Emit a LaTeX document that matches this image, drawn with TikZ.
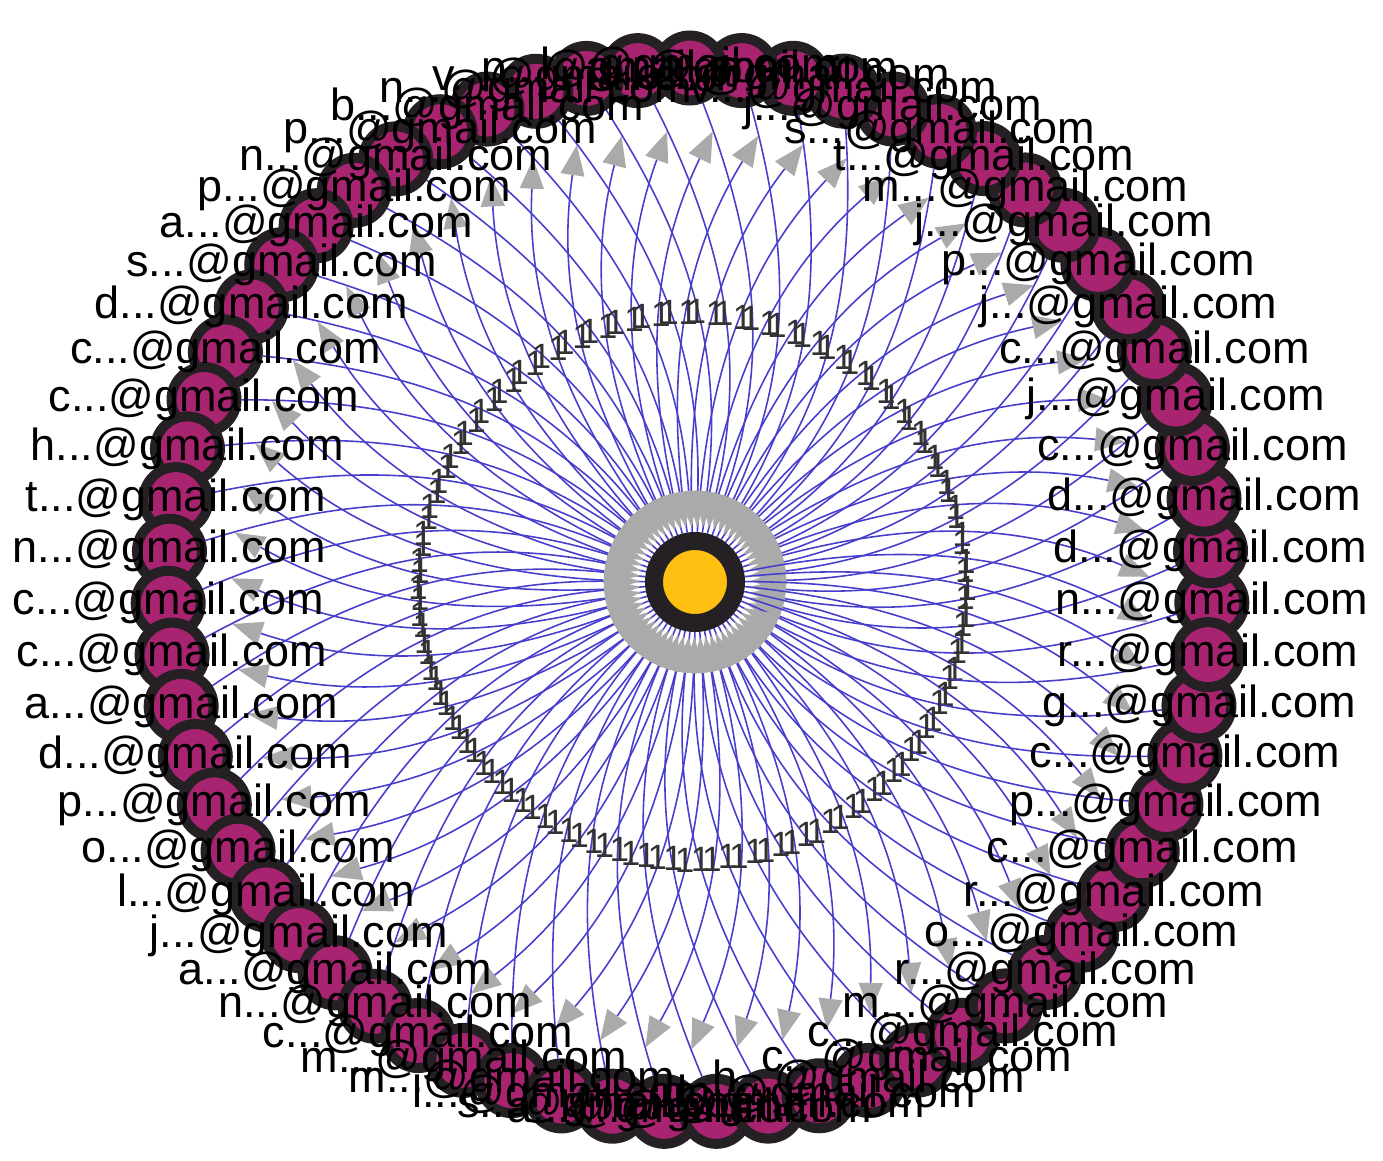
\documentclass[tikz,border=0pt]{standalone}
\usepackage{fontspec}
\setmainfont{Liberation Sans}
\usepackage{xcolor}
\usetikzlibrary{arrows.meta}
\definecolor{hubyellow}{RGB}{255,192,18}
\definecolor{memberpink}{RGB}{168,36,112}
\definecolor{ringblack}{RGB}{36,32,36}
\definecolor{linkblue}{RGB}{72,62,205}
\definecolor{tipgray}{RGB}{170,170,170}
\definecolor{onegray}{RGB}{50,50,50}
\pgfdeclarelayer{edges}
\pgfsetlayers{edges,main}

\begin{document}
\begin{tikzpicture}[
    member/.style={circle,draw=ringblack,fill=memberpink,line width=0.1cm,minimum size=0.65cm,inner sep=0pt},
    hub/.style={circle,draw=ringblack,fill=hubyellow,line width=0.18cm,minimum size=0.82cm,inner sep=0pt},
    link/.style={draw=linkblue,line width=0.45pt,-{Triangle[length=0.3cm,width=0.24cm,color=tipgray]}},
    inlink/.style={link,-{Triangle[length=0.36cm,width=0.22cm,color=tipgray]}},
    one/.style={font=\fontsize{10}{10}\selectfont,text=onegray,inner sep=1pt},
    addr/.style={font=\fontsize{12.8}{14}\selectfont,text=black,inner sep=0pt}]
    \useasboundingbox (0,0) rectangle (13.83,11.60);

    % centre and ring of members
    \node[hub] (hub) at (6.95,5.78) {};
    \coordinate (ring) at (6.90,5.70);
    \foreach \k in {0,...,62}{
        \pgfmathsetmacro{\ang}{\k*5.714286-1.4}
        \node[member] (u\k) at ([shift={(\ang:5.22)}]ring) {};
    }

    % two links per member, each weighted 1
    \begin{pgfonlayer}{edges}
        \foreach \k in {0,...,62}{
            \draw[link,shorten >=0.3cm] (hub) to[bend left=20] node[one] (o\k) {1} (u\k);
            \draw[inlink,shorten >=0.05cm] (u\k) to[bend left=20] node[one] (i\k) {1} (hub);
        }
    \end{pgfonlayer}

    % addresses
    \foreach \k/\ini in {0/n,1/d,2/d,3/c,4/j,5/c,6/j,7/p,8/j,9/m,10/t,11/s,12/j,
        13/v,14/e,15/a,16/l,17/p,18/v,19/n,20/b,21/p,22/n,23/p,24/a,25/s,
        26/d,27/c,28/c,29/h,30/t,31/n,32/c,33/c,34/a,35/d,36/p,37/o,38/l,
        39/j,40/a,41/n,42/c,43/m,44/m,45/l,46/s,47/a,48/k,49/b,50/d,51/h,
        52/c,53/c,54/m,55/r,56/o,57/r,58/c,59/p,60/c,61/g,62/r}{
        \node[addr] (t\k) at (u\k) {\ini...@gmail.com};
    }
\end{tikzpicture}
\end{document}
